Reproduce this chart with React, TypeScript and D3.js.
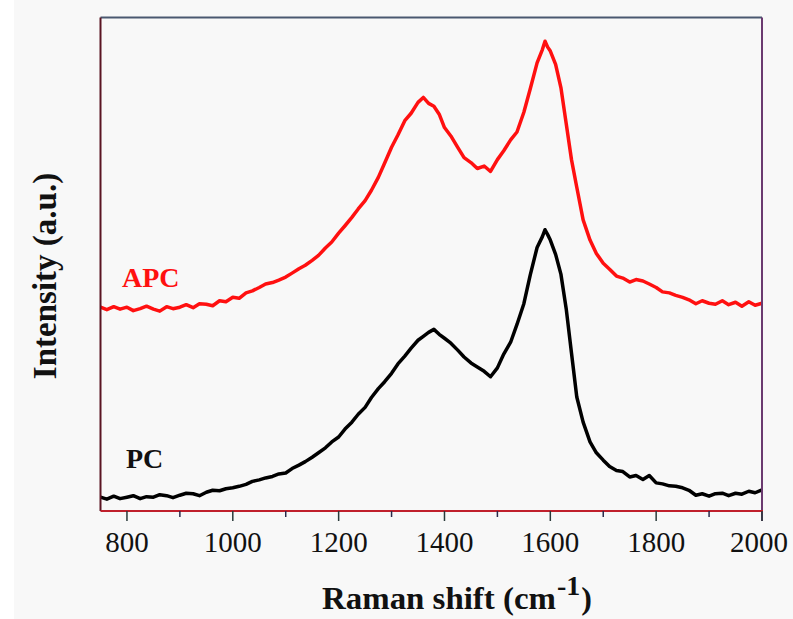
import React from "react";
import * as d3 from "d3";

const ramanShift = [750, 762, 775, 787, 800, 812, 825, 837, 850, 862, 875, 887, 900, 912, 925, 937, 950, 962, 975, 987, 1000, 1012, 1025, 1037, 1050, 1062, 1075, 1087, 1100, 1112, 1125, 1137, 1150, 1162, 1175, 1187, 1200, 1212, 1225, 1237, 1250, 1262, 1275, 1287, 1300, 1312, 1325, 1337, 1350, 1360, 1370, 1380, 1390, 1400, 1412, 1425, 1437, 1450, 1462, 1475, 1487, 1500, 1512, 1525, 1537, 1550, 1562, 1575, 1585, 1590, 1595, 1600, 1610, 1620, 1630, 1640, 1650, 1662, 1675, 1687, 1700, 1712, 1725, 1737, 1750, 1762, 1775, 1787, 1800, 1812, 1825, 1837, 1850, 1862, 1875, 1887, 1900, 1912, 1925, 1937, 1950, 1962, 1975, 1987, 2000];

const apcIntensity = [413, 408, 414, 409, 413, 406, 410, 415, 409, 405, 414, 410, 413, 418, 412, 420, 419, 416, 426, 424, 433, 431, 442, 446, 453, 460, 463, 468, 474, 482, 491, 498, 508, 518, 533, 545, 563, 578, 595, 612, 629, 650, 676, 705, 737, 762, 791, 806, 828, 838, 826, 820, 804, 777, 760, 737, 716, 706, 694, 699, 688, 712, 730, 752, 768, 808, 855, 908, 935, 952, 940, 932, 905, 858, 785, 712, 656, 590, 549, 522, 502, 490, 476, 472, 464, 469, 466, 460, 453, 444, 442, 437, 433, 428, 420, 426, 421, 419, 426, 418, 423, 415, 424, 417, 421];

const pcIntensity = [28, 24, 30, 25, 28, 31, 25, 29, 28, 33, 31, 27, 32, 36, 35, 31, 38, 42, 41, 45, 47, 50, 54, 60, 63, 67, 70, 75, 77, 86, 93, 100, 109, 118, 128, 140, 150, 166, 180, 196, 210, 230, 248, 262, 279, 298, 314, 330, 346, 354, 362, 368, 358, 350, 340, 326, 312, 300, 292, 283, 272, 290, 318, 342, 378, 420, 478, 534, 556, 570, 560, 549, 520, 480, 410, 320, 231, 180, 140, 118, 103, 90, 82, 80, 69, 72, 64, 72, 57, 55, 51, 50, 47, 42, 32, 35, 30, 35, 36, 31, 36, 34, 40, 37, 43];

const xTicks = [800, 1000, 1200, 1400, 1600, 1800, 2000];
const xMinorTicks = [900, 1100, 1300, 1500, 1700, 1900];

const seriesNames = ["APC", "PC"];
const seriesColors = ["#ff1010", "#000000"];

export default function App() {
  const W = 793;
  const H = 619;
  const left = 100.5;
  const right = 762;
  const top = 17.5;
  const bottom = 511;

  const x = d3.scaleLinear().domain([750, 2000]).range([left, right]);
  const y = d3.scaleLinear().domain([0, 1000]).range([bottom, top]);

  const line = d3
    .line<number>()
    .x((_, i) => x(ramanShift[i]))
    .y((d) => y(d))
    .curve(d3.curveLinear);

  const serif = "Liberation Serif, Times New Roman, serif";

  return (
    <svg
      width={W}
      height={H}
      style={{ position: "absolute", left: 0, top: 0, display: "block" }}
    >
      <rect x={0} y={0} width={W} height={H} fill="#ffffff" />
      <rect x={14} y={0} width={W - 14} height={H} fill="#f8f8f8" />

      {/* curves */}
      <path d={line(apcIntensity) || ""} fill="none" stroke={seriesColors[0]} strokeWidth={3.5} strokeLinejoin="round" />
      <path d={line(pcIntensity) || ""} fill="none" stroke={seriesColors[1]} strokeWidth={3.5} strokeLinejoin="round" />

      {/* frame */}
      <line x1={left} x2={right} y1={top} y2={top} stroke="#4a5870" strokeWidth={2} />
      <line x1={right} x2={right} y1={top} y2={bottom + 10} stroke="#6b3a70" strokeWidth={2} />
      <line x1={left} x2={left} y1={top} y2={bottom} stroke="#5a1422" strokeWidth={2} />
      <line x1={left} x2={right + 1} y1={bottom} y2={bottom} stroke="#c0202c" strokeWidth={2} />

      {/* ticks */}
      {xTicks.map((t) => (
        <line key={"M" + t} x1={x(t)} x2={x(t)} y1={bottom} y2={bottom + 10} stroke="#2a3a3a" strokeWidth={1.5} />
      ))}
      {xMinorTicks.map((t) => (
        <line key={"m" + t} x1={x(t)} x2={x(t)} y1={bottom} y2={bottom + 6} stroke="#2a2a4a" strokeWidth={1.5} />
      ))}
      {xTicks.map((t) => (
        <text
          key={"L" + t}
          x={t === 2000 ? x(t) - 3 : x(t)}
          y={552}
          textAnchor="middle"
          fontFamily={serif}
          fontSize={29}
          fill="#111"
        >
          {t}
        </text>
      ))}

      {/* series labels */}
      <text x={122} y={287} fontFamily={serif} fontSize={28} fontWeight="bold" fill={seriesColors[0]}>
        {seriesNames[0]}
      </text>
      <text x={126} y={468} fontFamily={serif} fontSize={28} fontWeight="bold" fill="#111">
        {seriesNames[1]}
      </text>

      {/* axis titles */}
      <text x={322} y={609} fontFamily={serif} fontSize={32} fontWeight="bold" fill="#111">
        <tspan textLength={234} lengthAdjust="spacingAndGlyphs">Raman shift (cm</tspan>
        <tspan fontSize={28} dy={-14} dx={1}>-1</tspan>
        <tspan dy={14} dx={1}>)</tspan>
      </text>
      <text
        transform="translate(56,276) rotate(-90)"
        textAnchor="middle"
        fontFamily={serif}
        fontSize={33}
        fontWeight="bold"
        fill="#111"
      >
        Intensity (a.u.)
      </text>
    </svg>
  );
}
